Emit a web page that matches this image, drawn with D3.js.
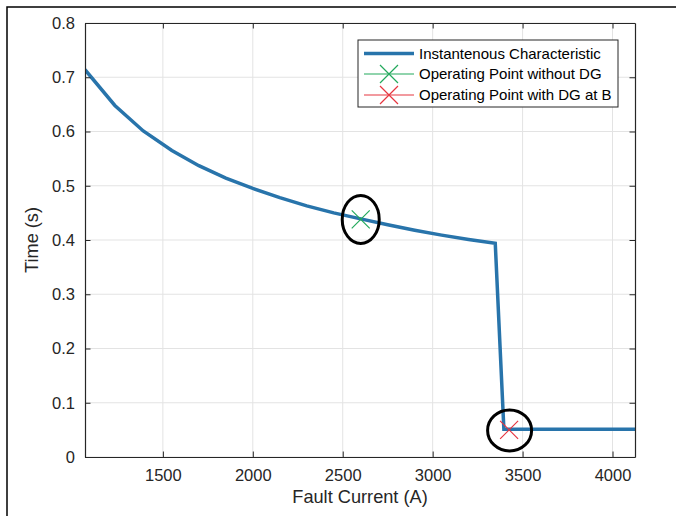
<!DOCTYPE html>
<html>
<head>
<meta charset="utf-8">
<script src="https://cdn.jsdelivr.net/npm/d3@7"></script>
<style>
  body { margin: 0; background: #fff; }
  svg { display: block; font-family: "Liberation Sans", Arial, sans-serif; }
</style>
</head>
<body>
<svg id="chart" width="676" height="516"></svg>
<script>
// Instantaneous characteristic (fault current in A, trip time in s)
const faultCurrent = [1067, 1233, 1391, 1550, 1700, 1850, 2000, 2150, 2300, 2450, 2600, 2750, 2900, 3050, 3200, 3348, 3396, 4125];
const tripTime     = [0.714, 0.648, 0.601, 0.565, 0.537, 0.514, 0.495, 0.478, 0.463, 0.450, 0.439, 0.428, 0.418, 0.409, 0.401, 0.394, 0.051, 0.051];

// operating points
const opWithoutDG = { current: 2600, time: 0.438 };
const opWithDG    = { current: 3425, time: 0.050 };

const xTicks = [1500, 2000, 2500, 3000, 3500, 4000];
const yTicks = [0, 0.1, 0.2, 0.3, 0.4, 0.5, 0.6, 0.7, 0.8];
const legendLabels = ['Instantenous Characteristic', 'Operating Point without DG', 'Operating Point with DG at B'];

const colors = { line: '#2874ab', green: '#23a95c', red: '#e63640', axis: '#262626', grid: '#e3e3e3' };

const margin = { left: 85, right: 41, top: 23, bottom: 59 };
const W = 676, H = 516;
const width = W - margin.left - margin.right;
const height = H - margin.top - margin.bottom;

const svg = d3.select('#chart');

// outer frame
svg.append('rect')
  .attr('x', 7).attr('y', 7)
  .attr('width', 720).attr('height', 600)
  .attr('fill', 'none')
  .attr('stroke', '#000')
  .attr('stroke-width', 1.5);

const g = svg.append('g').attr('transform', `translate(${margin.left},${margin.top})`);

const x = d3.scaleLinear().domain([1067, 4125]).range([0, width]);
const y = d3.scaleLinear().domain([0, 0.8]).range([height, 0]);

// grid
g.append('g')
  .selectAll('line')
  .data(xTicks)
  .join('line')
  .attr('x1', d => x(d)).attr('x2', d => x(d))
  .attr('y1', 0).attr('y2', height)
  .attr('stroke', colors.grid).attr('stroke-width', 1);

g.append('g')
  .selectAll('line')
  .data(yTicks)
  .join('line')
  .attr('y1', d => y(d)).attr('y2', d => y(d))
  .attr('x1', 0).attr('x2', width)
  .attr('stroke', colors.grid).attr('stroke-width', 1);

g.append('clipPath').attr('id', 'clip')
  .append('rect').attr('width', width).attr('height', height);

// characteristic line
const pts = faultCurrent.map((c, i) => [c, tripTime[i]]);
const line = d3.line().x(d => x(d[0])).y(d => y(d[1]));

g.append('path')
  .datum(pts)
  .attr('clip-path', 'url(#clip)')
  .attr('fill', 'none')
  .attr('stroke', colors.line)
  .attr('stroke-width', 3.5)
  .attr('stroke-linejoin', 'miter')
  .attr('d', line);

// cross marker
function cross(sel, cx, cy, r, color) {
  sel.append('path')
    .attr('d', `M${cx - r},${cy - r}L${cx + r},${cy + r}M${cx - r},${cy + r}L${cx + r},${cy - r}`)
    .attr('stroke', color)
    .attr('stroke-width', 1.2)
    .attr('fill', 'none');
}

cross(g, x(opWithoutDG.current), y(opWithoutDG.time), 9, colors.green);
cross(g, x(opWithDG.current), y(opWithDG.time), 9, colors.red);

// highlight ellipses
g.append('ellipse')
  .attr('cx', x(opWithoutDG.current)).attr('cy', y(opWithoutDG.time))
  .attr('rx', 18.5).attr('ry', 24)
  .attr('fill', 'none').attr('stroke', '#000').attr('stroke-width', 3);

g.append('ellipse')
  .attr('cx', x(opWithDG.current) + 0.5).attr('cy', y(opWithDG.time) + 0.5)
  .attr('rx', 22).attr('ry', 20.5)
  .attr('fill', 'none').attr('stroke', '#000').attr('stroke-width', 3);

// axes (box with inward ticks on all sides)
const tickLen = 5.5;
const xAxis = g.append('g').attr('transform', `translate(0,${height})`)
  .call(d3.axisBottom(x).tickValues(xTicks).tickSize(-tickLen).tickSizeOuter(0).tickPadding(12).tickFormat(d3.format('d')));
const xAxisTop = g.append('g')
  .call(d3.axisTop(x).tickValues(xTicks).tickSize(-tickLen).tickSizeOuter(0).tickFormat(''));
const yAxis = g.append('g')
  .call(d3.axisLeft(y).tickValues(yTicks).tickSize(-tickLen).tickSizeOuter(0).tickPadding(10).tickFormat(d => d === 0 ? '0' : d3.format('.1f')(d)));
const yAxisRight = g.append('g').attr('transform', `translate(${width},0)`)
  .call(d3.axisRight(y).tickValues(yTicks).tickSize(-tickLen).tickSizeOuter(0).tickFormat(''));

[xAxis, xAxisTop, yAxis, yAxisRight].forEach(a => {
  a.select('.domain').attr('stroke', colors.axis).attr('stroke-width', 1.2);
  a.selectAll('.tick line').attr('stroke', colors.axis).attr('stroke-width', 1);
  a.selectAll('text')
    .attr('fill', colors.axis)
    .style('font-size', '16.5px')
    .style('font-family', '"Liberation Sans", Arial, sans-serif');
});

// axis labels
g.append('text')
  .attr('x', width / 2).attr('y', height + 46)
  .attr('text-anchor', 'middle')
  .attr('fill', colors.axis)
  .style('font-size', '18.2px')
  .text('Fault Current (A)');

g.append('text')
  .attr('transform', `translate(${-47},${height / 2}) rotate(-90)`)
  .attr('text-anchor', 'middle')
  .attr('fill', colors.axis)
  .style('font-size', '18.2px')
  .text('Time (s)');

// legend
const lg = svg.append('g').attr('transform', 'translate(358,40)');
lg.append('rect')
  .attr('width', 260).attr('height', 67)
  .attr('fill', '#fff')
  .attr('stroke', colors.axis)
  .attr('stroke-width', 1);

const rowY = [13.5, 34, 55];
const legendColors = [colors.line, colors.green, colors.red];
legendLabels.forEach((label, i) => {
  const ly = rowY[i];
  lg.append('line')
    .attr('x1', 6).attr('x2', 56)
    .attr('y1', ly).attr('y2', ly)
    .attr('stroke', legendColors[i])
    .attr('stroke-width', i === 0 ? 3.5 : 1.2);
  if (i > 0) cross(lg, 31, ly, 9, legendColors[i]);
  lg.append('text')
    .attr('x', 61).attr('y', ly)
    .attr('dy', '0.35em')
    .attr('fill', '#000')
    .style('font-size', '15px')
    .text(label);
});
</script>
</body>
</html>
